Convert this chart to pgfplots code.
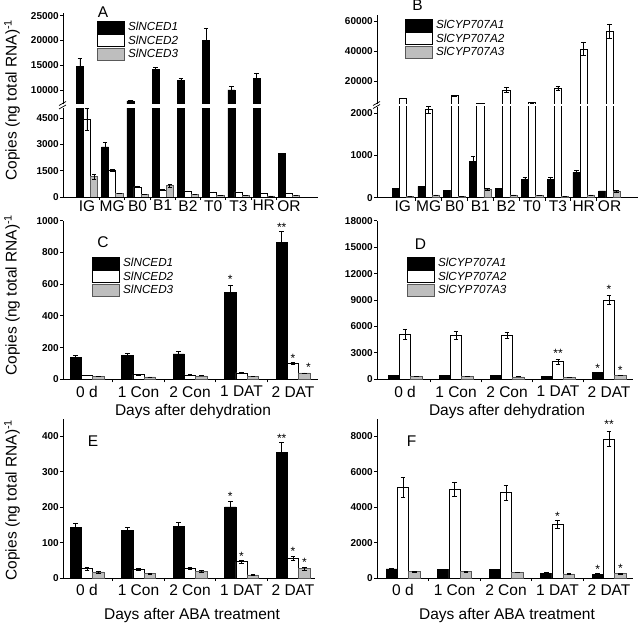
\documentclass[border=0pt]{standalone}
\usepackage{fontspec}
\setmainfont{Liberation Sans}
\usepackage{pgfplots}
\usepackage{pgfplotstable}
\pgfplotsset{compat=1.18}
\definecolor{bg}{RGB}{190,190,190}

\pgfplotstableread{
x a ea b eb c ec
0 14700 1600 4400 630 1160 150
1 2850 250 1510 60 190 0
2 7800 150 580 50 130 0
3 14100 400 390 30 640 100
4 11900 500 350 0 130 0
5 20000 2500 290 0 110 0
6 10000 800 290 0 110 0
7 12400 1000 190 0 60 0
8 2480 0 210 0 100 0
}\dataA
\pgfplotstableread{
x a ea b eb c ec
0 225 0 8450 0 40 0
1 265 0 2080 90 65 0
2 170 0 10200 300 25 0
3 850 120 4900 150 190 25
4 225 0 14000 1500 65 0
5 440 30 5570 200 50 0
6 440 50 15100 1300 35 0
7 600 40 41300 4200 65 0
8 160 0 53300 4700 145 20
}\dataB
\pgfplotstableread{
x a ea b eb c ec
0 140 12 25 2 18 0
1 150 15 30 2 15 0
2 160 15 28 2 22 0
3 550 45 40 4 20 0
4 865 65 100 5 40 0
}\dataC
\pgfplotstableread{
x a ea b eb c ec
0 450 0 5100 550 300 0
1 450 0 5030 450 300 0
2 450 0 5030 350 280 0
3 350 0 2000 300 250 0
4 800 0 9000 500 400 0
}\dataD
\pgfplotstableread{
x a ea b eb c ec
0 142 12 26 3 17 3
1 135 8 24 3 12 2
2 146 12 27 2 19 2
3 201 15 46 4 9 2
4 355 27 55 6 26 3
}\dataE
\pgfplotstableread{
x a ea b eb c ec
0 510 30 5130 560 360 20
1 470 20 5020 400 360 20
2 470 20 4830 420 320 20
3 280 20 3040 220 230 20
4 210 40 7850 440 250 30
}\dataF

\tikzset{sig/.style={font=\fontsize{12}{12}\selectfont, inner sep=0pt, yshift=-3pt}}
\pgfplotsset{
  eb/.style={error bars/y dir=both, error bars/y explicit,
    error bars/error mark options={rotate=90, mark size=2.3pt, line width=0.7pt, black}},
  mylegend/.style={legend image code/.code={\draw[##1] (0pt,-6pt) rectangle (27pt,6pt);}},
  s1/.style={ybar, fill=black, draw=black, line width=0.6pt, eb, mylegend},
  s2/.style={ybar, fill=white, draw=black, line width=0.6pt, eb, mylegend},
  s3/.style={ybar, fill=bg, draw=black!65, line width=0.6pt, eb, mylegend},
  panel/.style={scale only axis, anchor=south west, axis y line*=left,
    tick align=outside, major tick length=3pt, minor tick length=3pt,
    /pgf/number format/assume math mode=true, /pgf/number format/1000 sep={},
    scaled y ticks=false,
    yticklabel style={font=\fontsize{10}{10}\selectfont\bfseries, inner sep=1pt},
    xticklabel style={font=\fontsize{15.5}{15.5}\selectfont, inner sep=0pt, anchor=north},
    axis line style={line width=0.8pt},
    tick style={black, line width=0.8pt},
    clip mode=individual,
    legend cell align=left,
    legend style={draw=none, fill=none, inner sep=0pt, outer sep=0pt,
      font=\fontsize{11.7}{12}\selectfont\itshape, row sep=0.7pt, column sep=3pt,
      nodes={inner sep=0.5pt}, anchor=north west}},
  lowx/.style={axis x line*=bottom, major x tick style={draw=none},
    minor x tick style={line width=0.8pt, black}},
  nox/.style={axis x line=none, xtick=\empty},
  nine/.style={xtick={0,...,8}, xticklabels={IG,MG,B0,B1,B2,T0,T3,HR,OR},
    minor xtick={0.5,1.5,...,7.5}},
  five/.style={xtick={0,...,4}, xticklabels={0 d,1 Con,2 Con,1 DAT,2 DAT},
    minor xtick={0.5,1.5,2.5,3.5}},
}
\newcommand{\threebars}[2]{%
  \addplot[s1, bar width=#2, bar shift=-#2,
    error bars/error bar style={line width=0.7pt, black, xshift=-#2}]
    table[x=x, y=a, y error=ea]{#1};
  \addplot[s2, bar width=#2, bar shift=0pt,
    error bars/error bar style={line width=0.7pt, black}]
    table[x=x, y=b, y error=eb]{#1};
  \addplot[s3, bar width=#2, bar shift=#2,
    error bars/error bar style={line width=0.7pt, black, xshift=#2}]
    table[x=x, y=c, y error=ec]{#1};
}
\newcommand{\bigf}{\fontsize{15.5}{15.5}\selectfont}

\begin{document}
\begin{tikzpicture}
\useasboundingbox (0,0) rectangle (640pt,625pt);

% ---------- A upper
\begin{axis}[panel, nox, at={(63pt,520.7pt)}, width=255pt, height=91pt,
  xmin=-0.95, xmax=9.15, ymin=7110, ymax=25480, ytick={10000,15000,20000,25000},
  legend style={at={(0.133,0.915)}}]
\threebars{\dataA}{7.1pt}
\addlegendentry{SlNCED1}
\addlegendentry{SlNCED2}
\addlegendentry{SlNCED3}
\end{axis}
% ---------- A lower
\begin{axis}[panel, lowx, nine, at={(63pt,428pt)}, width=255pt, height=89pt,
  xmin=-0.95, xmax=9.15, ymin=0, ymax=5070, ytick={0,1500,3000,4500}]
\threebars{\dataA}{7.1pt}
\end{axis}

% ---------- B upper
\begin{axis}[panel, nox, at={(377pt,520.7pt)}, width=261pt, height=89.3pt,
  xmin=-1.0, xmax=9.1, ymin=4470, ymax=64000, ytick={20000,40000,60000},
  legend style={at={(0.107,0.955)}}]
\threebars{\dataB}{7.2pt}
\addlegendentry{SlCYP707A1}
\addlegendentry{SlCYP707A2}
\addlegendentry{SlCYP707A3}
\end{axis}
% ---------- B lower
\begin{axis}[panel, lowx, nine, at={(377pt,427.3pt)}, width=261pt, height=91pt,
  xmin=-1.0, xmax=9.1, ymin=0, ymax=2150, ytick={0,1000,2000}]
\threebars{\dataB}{7.2pt}
\end{axis}

% gaps of the broken axes
\fill[white] (63.6pt,517.4pt) rectangle (319pt,521.4pt);
\fill[white] (377.6pt,518.6pt) rectangle (639pt,521.4pt);

% ---------- C
\begin{axis}[panel, lowx, five, at={(63pt,245.7pt)}, width=255pt, height=158.6pt,
  xmin=-0.466, xmax=4.485, ymin=0, ymax=1000, ytick={0,200,...,1000},
  xticklabel style={yshift=-3.8pt},
  legend style={at={(0.114,0.771)}}]
\threebars{\dataC}{11.3pt}
\addlegendentry{SlNCED1}
\addlegendentry{SlNCED2}
\addlegendentry{SlNCED3}
\node[sig] at (axis cs:2.78,648) {*};
\node[sig] at (axis cs:3.78,975) {**};
\node[sig] at (axis cs:4,154) {*};
\node[sig] at (axis cs:4.3,95) {*};
\end{axis}

% ---------- D
\begin{axis}[panel, lowx, five, at={(377pt,245.7pt)}, width=256pt, height=158.6pt,
  xmin=-0.55, xmax=4.47, ymin=0, ymax=18000, ytick={0,3000,...,18000},
  xticklabel style={yshift=-3.8pt},
  legend style={at={(0.117,0.771)}}]
\threebars{\dataD}{11.2pt}
\addlegendentry{SlCYP707A1}
\addlegendentry{SlCYP707A2}
\addlegendentry{SlCYP707A3}
\node[sig] at (axis cs:3,3330) {**};
\node[sig] at (axis cs:3.78,1625) {*};
\node[sig] at (axis cs:4,10500) {*};
\node[sig] at (axis cs:4.22,1320) {*};
\end{axis}

% ---------- E
\begin{axis}[panel, lowx, five, at={(63pt,47pt)}, width=252pt, height=159.4pt,
  xmin=-0.466, xmax=4.427, ymin=0, ymax=450, ytick={0,100,...,400},
  xticklabel style={yshift=-3.5pt}]
\threebars{\dataE}{11.3pt}
\node[sig] at (axis cs:2.78,238) {*};
\node[sig] at (axis cs:3,70) {*};
\node[sig] at (axis cs:3.78,403) {**};
\node[sig] at (axis cs:4,84) {*};
\node[sig] at (axis cs:4.22,53) {*};
\end{axis}

% ---------- F
\begin{axis}[panel, lowx, five, at={(377pt,47pt)}, width=256pt, height=159.4pt,
  xmin=-0.505, xmax=4.466, ymin=0, ymax=9000, ytick={0,2000,...,8000},
  xticklabel style={yshift=-3.5pt}]
\threebars{\dataF}{11.3pt}
\node[sig] at (axis cs:3,3640) {*};
\node[sig] at (axis cs:4,8850) {**};
\node[sig] at (axis cs:3.78,640) {*};
\node[sig] at (axis cs:4.22,735) {*};
\end{axis}

% break marks
\draw[line width=0.7pt] (59pt,516pt) -- (66pt,520pt);
\draw[line width=0.7pt] (59pt,519.5pt) -- (66pt,523.5pt);
\draw[line width=0.7pt] (373pt,516.5pt) -- (380pt,520.5pt);
\draw[line width=0.7pt] (373pt,519.5pt) -- (380pt,523.5pt);

% panel letters
\node[font=\bigf] at (103pt,612.5pt) {A};
\node[font=\bigf] at (417.5pt,619.5pt) {B};
\node[font=\bigf] at (103pt,382.5pt) {C};
\node[font=\bigf] at (420.5pt,381pt) {D};
\node[font=\bigf] at (93pt,183.5pt) {E};
\node[font=\bigf] at (411.5pt,183.5pt) {F};

% x labels
\node[font=\bigf] at (193pt,213.3pt) {Days after dehydration};
\node[font=\bigf] at (507pt,213.3pt) {Days after dehydration};
\node[font=\bigf] at (192pt,10pt) {Days after ABA treatment};
\node[font=\bigf] at (507pt,10pt) {Days after ABA treatment};

% y labels
\node[font=\bigf, rotate=90] at (12pt,525pt) {Copies (ng total RNA)\textsuperscript{-1}};
\node[font=\bigf, rotate=90] at (12pt,330pt) {Copies (ng total RNA)\textsuperscript{-1}};
\node[font=\bigf, rotate=90] at (12pt,125pt) {Copies (ng total RNA)\textsuperscript{-1}};
\end{tikzpicture}
\end{document}
